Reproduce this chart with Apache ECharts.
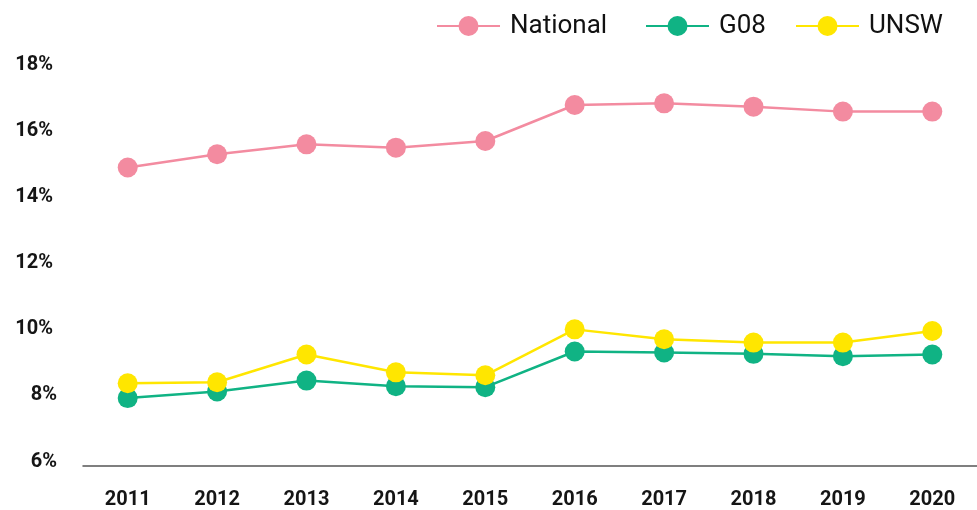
<!DOCTYPE html>
<html>
<head>
<meta charset="utf-8">
<script src="https://cdn.jsdelivr.net/npm/echarts@6/dist/echarts.min.js"></script>
<style>
html,body{margin:0;padding:0;background:#fff;}
#chart{width:977px;height:510px;}
</style>
</head>
<body>
<div id="chart"></div>
<script>
const years = ['2011','2012','2013','2014','2015','2016','2017','2018','2019','2020'];
const national = [15.02, 15.42, 15.72, 15.62, 15.82, 16.91, 16.96, 16.86, 16.71, 16.71];
const g08 = [8.04, 8.24, 8.57, 8.40, 8.37, 9.45, 9.42, 9.38, 9.31, 9.36];
const unsw = [8.49, 8.52, 9.36, 8.82, 8.73, 10.12, 9.82, 9.72, 9.72, 10.07];
const seriesNames = ['National', 'G08', 'UNSW'];
const colors = ['#F38BA0', '#10B384', '#FFE600'];

const chart = echarts.init(document.getElementById('chart'), null, {renderer: 'canvas'});

function mkLegend(name, left) {
  return {
    data: [name],
    left: left,
    top: 13,
    padding: 0,
    itemWidth: 63,
    itemHeight: 25,
    textStyle: {fontFamily: 'Roboto', fontSize: 26, color: '#111', padding: [0, 0, 0, 5]},
    selectedMode: false
  };
}

function mkSeries(name, data, color) {
  return {
    name: name,
    type: 'line',
    data: data,
    symbol: 'circle',
    symbolSize: 20,
    showAllSymbol: true,
    lineStyle: {color: color, width: 2.5},
    itemStyle: {color: color},
    emphasis: {disabled: true},
    animation: false
  };
}

const labelFont = {fontFamily: 'Roboto', fontSize: 20, fontWeight: 'bold', color: '#151515'};

const option = {
  backgroundColor: '#fff',
  animation: false,
  legend: [
    mkLegend(seriesNames[0], 436),
    mkLegend(seriesNames[1], 645),
    mkLegend(seriesNames[2], 795)
  ],
  grid: {left: 83, top: 69, width: 905, height: 396.5, containLabel: false},
  xAxis: {
    type: 'category',
    data: years,
    boundaryGap: true,
    axisLine: {show: true, lineStyle: {color: '#555', width: 1.5}},
    axisTick: {show: false},
    axisLabel: Object.assign({margin: 24}, labelFont)
  },
  yAxis: {
    type: 'value',
    min: 6,
    max: 18,
    interval: 2,
    axisLine: {show: false},
    axisTick: {show: false},
    splitLine: {show: false},
    axisLabel: Object.assign({
      margin: 26,
      padding: [0, 0, 8, 0],
      formatter: function (v) { return v >= 10 ? '{w|' + v + '%}' : '{n|' + v + '%}'; },
      rich: {
        w: Object.assign({padding: [0, 4, 0, 0]}, labelFont),
        n: Object.assign({}, labelFont)
      }
    }, labelFont)
  },
  series: [
    mkSeries(seriesNames[0], national, colors[0]),
    mkSeries(seriesNames[1], g08, colors[1]),
    mkSeries(seriesNames[2], unsw, colors[2])
  ]
};
chart.setOption(option);
</script>
</body>
</html>
